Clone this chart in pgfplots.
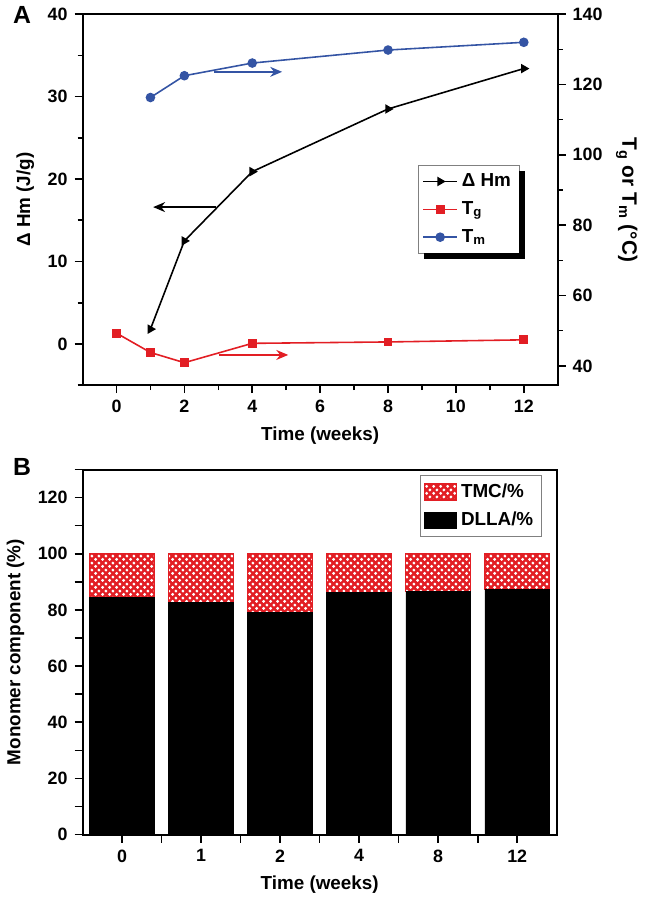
\documentclass[border=0pt]{standalone}
\usepackage{fontspec}
\setmainfont{Liberation Sans}
\usepackage{pgfplots}
\pgfplotsset{compat=1.18}
\usetikzlibrary{patterns,arrows.meta}
\definecolor{myred}{RGB}{226,30,36}
\definecolor{myblue}{RGB}{52,84,164}
\pgfdeclarepatternformonly{bigdots}{\pgfpointorigin}{\pgfpoint{3.4pt}{3.4pt}}{\pgfpoint{3.4pt}{3.4pt}}{%
  \pgfpathcircle{\pgfpoint{0.85pt}{0.85pt}}{0.8pt}%
  \pgfpathcircle{\pgfpoint{2.55pt}{2.55pt}}{0.8pt}%
  \pgfusepath{fill}}
\pgfplotsset{base/.style={scale only axis, tick align=outside,
  axis line style={line width=1pt}, every tick/.style={black, line width=0.8pt},
  major tick length=4pt, minor tick length=2.5pt,
  tick label style={font=\bfseries\fontsize{9}{10}\selectfont},
  label style={font=\bfseries\fontsize{9.5}{11}\selectfont},
  /pgf/number format/assume math mode=true}}
\begin{document}
\begin{tikzpicture}
\path (0,0) rectangle (316.5pt,-450pt);
\node[font=\bfseries\fontsize{12.5}{14}\selectfont] at (6pt,-6.5pt) {A};
\node[font=\bfseries\fontsize{12.5}{14}\selectfont] at (6pt,-234pt) {B};
% ---- top, left axis
\begin{axis}[base, width=239.5pt, height=187pt, at={(36.5pt,-6pt)}, anchor=north west,
  xmin=-1, xmax=13, ymin=-5, ymax=40,
  xtick={0,2,...,12}, minor xtick={1,3,...,11},
  ytick={0,10,...,40}, minor ytick={-5,5,...,35},
  xtick pos=bottom, ytick pos=left,
  xlabel={Time (weeks)}, ylabel={Δ Hm (J/g)}]
\addplot[black, line width=0.8pt, mark=triangle*, mark size=2pt, mark options={rotate=-90}]
  coordinates {(1,1.8) (2,12.5) (4,20.9) (8,28.5) (12,33.4)};
\draw[black, line width=0.9pt, -{Stealth[length=6pt,width=5pt]}] (axis cs:2.93,16.6) -- (axis cs:1.08,16.6);
\end{axis}
% ---- top, right axis
\begin{axis}[base, width=239.5pt, height=187pt, at={(36.5pt,-6pt)}, anchor=north west,
  xmin=-1, xmax=13, ymin=34.5, ymax=140,
  xtick=\empty, ytick={40,60,...,140}, minor ytick={50,70,...,130},
  ytick pos=right, yticklabel pos=right, ylabel near ticks,
  ylabel={T\textsubscript{g} or T\textsubscript{m} (\textdegree C)},
  ylabel style={rotate=180, font=\bfseries\fontsize{10.5}{12}\selectfont},
  legend style={name=legA, at={(0.706,0.593)}, anchor=north west, draw=black!50, line width=0.4pt,
    fill=white, font=\bfseries\fontsize{9.5}{11}\selectfont, row sep=2pt, inner sep=2pt},
  legend cell align=left,
  legend image code/.code={\draw[mark repeat=2,mark phase=2,#1] plot coordinates {(0cm,0cm) (0.3cm,0cm) (0.6cm,0cm)};}]
\addlegendimage{black, line width=0.8pt, mark=triangle*, mark size=2pt, mark options={rotate=-90}}
\addlegendentry{Δ Hm}
\addplot[myred, line width=0.8pt, mark=square*, mark size=1.8pt]
  coordinates {(0,49.3) (1,43.8) (2,40.9) (4,46.4) (8,46.8) (12,47.4)};
\addlegendentry{T\textsubscript{g}}
\addplot[myblue, line width=0.8pt, mark=*, mark size=2pt]
  coordinates {(1,116.3) (2,122.5) (4,126.1) (8,129.8) (12,132.0)};
\addlegendentry{T\textsubscript{m}}
\draw[myblue, line width=0.9pt, -{Stealth[length=6pt,width=5pt]}] (axis cs:2.87,123.6) -- (axis cs:4.88,123.6);
\draw[myred, line width=0.9pt, -{Stealth[length=6pt,width=5pt]}] (axis cs:3.01,43.1) -- (axis cs:5.06,43.1);
\end{axis}
\fill[black] ([shift={(3pt,-3pt)}]legA.south west) rectangle ([shift={(3pt,0pt)}]legA.south east);
\fill[black] ([yshift=-3pt]legA.south east) rectangle ([shift={(3pt,-3pt)}]legA.north east);
% ---- bottom
\begin{axis}[base, width=239pt, height=184pt, at={(36.5pt,-235.5pt)}, anchor=north west,
  ybar stacked, bar width=0.82, minor tick length=4pt,
  xmin=-0.5, xmax=5.5, ymin=0, ymax=130,
  xtick={0,...,5}, xticklabels={0,1,2,4,8,12},
  minor xtick={0.5,1.5,...,4.5},
  ytick={0,20,...,120}, minor ytick={10,30,...,130},
  xtick pos=bottom, ytick pos=left,
  xlabel={Time (weeks)}, ylabel={Monomer component (\%)},
  reverse legend,
  legend style={at={(0.968,0.984)}, anchor=north east, draw=black!50, line width=0.4pt,
    font=\bfseries\fontsize{9.5}{11}\selectfont, row sep=2pt, inner sep=2pt},
  legend cell align=left,
  legend image code/.code={\draw[#1] (0pt,-4pt) rectangle (16pt,4pt);}]
\addplot[fill=black, draw=black, line width=0.3pt]
  coordinates {(0,84.5) (1,82.6) (2,79.1) (3,86.2) (4,86.7) (5,87.3)};
\addlegendentry{DLLA/\%}
\addplot[fill=myred, draw=myred, line width=0.6pt, postaction={pattern=bigdots, pattern color=white}]
  coordinates {(0,15.5) (1,17.4) (2,20.9) (3,13.8) (4,13.3) (5,12.7)};
\addlegendentry{TMC/\%}
\end{axis}
\end{tikzpicture}
\end{document}
